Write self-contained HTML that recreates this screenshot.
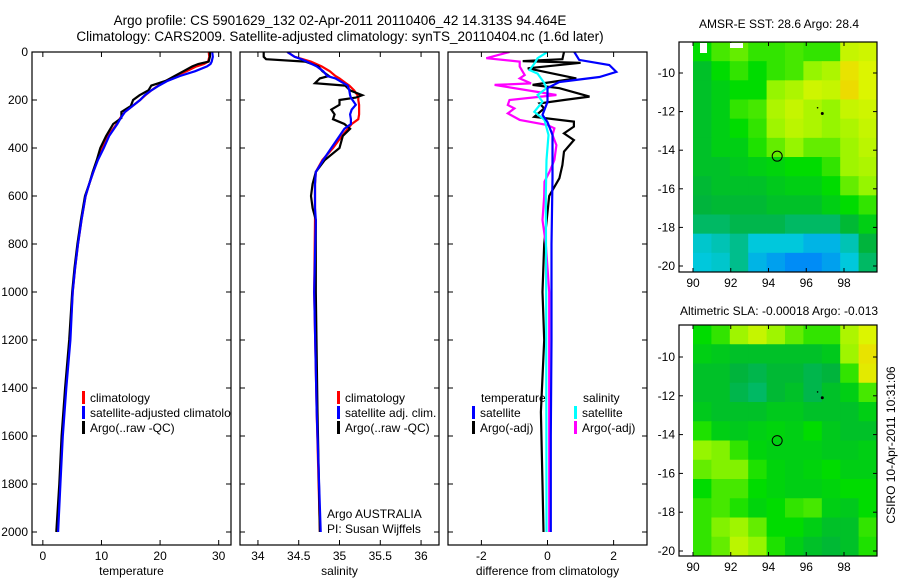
<!DOCTYPE html>
<html><head><meta charset="utf-8">
<style>
body{margin:0;background:#fff;}
svg{display:block;font-family:"Liberation Sans",sans-serif;}
text{fill:#000;}
</style></head>
<body>
<svg id="chart" width="900" height="580" viewBox="0 0 900 580" xmlns="http://www.w3.org/2000/svg">
<text x="340" y="25" font-size="13.5" text-anchor="middle">Argo profile: CS 5901629_132 02-Apr-2011 20110406_42 14.313S 94.464E</text>
<text x="340" y="41" font-size="13.5" text-anchor="middle">Climatology: CARS2009. Satellite-adjusted climatology: synTS_20110404.nc (1.6d later)</text>
<text x="779" y="28" font-size="12" text-anchor="middle">AMSR-E SST: 28.6 Argo: 28.4</text>
<text x="779" y="315" font-size="12" text-anchor="middle">Altimetric SLA: -0.00018 Argo: -0.013</text>
<text transform="translate(895,445) rotate(-90)" font-size="12" text-anchor="middle">CSIRO 10-Apr-2011 10:31:06</text>
<text x="327" y="518" font-size="12">Argo AUSTRALIA</text>
<text x="327" y="533" font-size="12">PI: Susan Wijffels</text>
</svg>
<script>
// ---- profile data ----
const depthT = [0,20,40,50,60,80,100,120,140,160,180,200,225,250,275,300,350,400,450,500,550,600,700,800,900,1000,1200,1400,1600,1800,2000];
const tempClim = [28.3,28.4,28.2,27.5,26.2,24.5,22.6,21,19.7,18.5,17.5,16.6,15.3,14.0,13.2,12.6,11.1,10.2,9.3,8.6,7.9,7.3,6.6,6.0,5.5,5.1,4.6,3.9,3.3,2.9,2.5];
const tempSat = [28.9,29.0,28.8,28.6,28.0,26.0,23.4,21.3,19.8,18.5,17.4,16.6,15.3,14.0,13.3,12.7,11.3,10.4,9.4,8.6,7.9,7.3,6.6,6.0,5.5,5.1,4.7,4.0,3.4,3.0,2.6];
const tempArgo = [28.5,28.5,28.3,26.5,25.5,24.0,22.5,21.0,18.5,18.0,16.5,15.4,15.0,13.4,13.4,12.0,10.8,9.8,9.2,8.5,7.9,7.2,6.5,5.9,5.4,5.0,4.5,3.8,3.2,2.8,2.3];
const depthS = [0,20,30,40,60,80,100,110,130,140,160,180,190,200,220,240,260,280,300,320,350,400,450,500,550,600,650,700,1000,1500,2000];
const salClim = [34.36,34.45,34.55,34.65,34.78,34.88,34.95,35.0,35.08,35.12,35.18,35.22,35.23,35.23,35.24,35.24,35.24,35.23,35.15,35.1,35.03,34.92,34.79,34.71,34.7,34.7,34.7,34.7,34.69,34.72,34.76];
const salSat = [34.36,34.45,34.53,34.6,34.72,34.8,34.85,34.95,35.05,35.1,35.12,35.13,35.14,35.16,35.2,35.15,35.13,35.14,35.14,35.06,35.0,34.9,34.8,34.71,34.7,34.7,34.7,34.71,34.69,34.72,34.77];
const salArgo = [34.07,34.07,34.1,34.58,34.74,34.79,34.87,34.76,34.7,35.07,35.13,35.28,35.2,35.0,35.0,34.9,34.94,34.92,35.06,35.13,35.04,35.0,34.82,34.71,34.67,34.65,34.67,34.71,34.71,34.73,34.76];
const depthDTS = [0,33,54,83,104,125,150,208,262,292,346,525,800,1200,1600,2000];
const diffTempSat = [0.81,0.96,1.87,2.08,1.57,0.36,0.0,0.0,-0.15,0.0,0.15,0.15,0.12,0.12,0.1,0.1];
const depthDTA = [0,30,38,45,68,110,137,151,186,200,214,235,270,290,311,339,367,415,471,526,600,800,1000,1200,1500,1800,2000];
const diffTempArgo = [0.5,0.45,-0.75,1.0,-0.6,0.87,-0.45,0.36,1.27,0.5,-0.24,-0.1,-0.4,0.8,0.8,0.5,0.8,0.5,0.45,0.36,0.05,-0.1,-0.15,-0.1,-0.2,-0.15,-0.12];
const depthDSS = [0,26,47,75,90,131,151,179,207,249,283,346,450,600,1000,2000];
const diffSalSat = [0.0,-0.3,-0.39,-0.54,-0.3,-0.09,-0.03,-0.3,-0.15,-0.4,-0.09,0.03,-0.03,-0.05,-0.04,-0.03];
const depthDSA = [0,26,40,61,96,110,131,137,179,200,221,235,256,283,304,318,346,388,450,499,540,600,700,800,1000,1500,2000];
const diffSalArgo = [-1.15,-1.85,-0.84,-0.84,-0.69,-0.84,-0.5,-1.6,0.27,-1.15,-1.2,-1.0,-1.2,-0.84,0.0,0.21,0.15,0.27,0.21,0.06,-0.09,-0.1,-0.15,-0.05,0.05,0.05,0.05];
const depthTicks = [0,200,400,600,800,1000,1200,1400,1600,1800,2000];
const tempTicks = [0,10,20,30];
const salTicks = [34,34.5,35,35.5,36];
const salTickLabels = ["34","34.5","35","35.5","36"];
const diffTicks = [-2,0,2];
// ---- map data (rows lat top->bottom, cols lon 90->99.7), colour level 0..1 ----
const sstGrid = [
[.55,.62,.65,.6,.6,.62,.6,.6,.8,.82],
[.45,.55,.6,.55,.6,.62,.7,.75,.9,.85],
[.45,.5,.55,.55,.7,.75,.82,.8,.92,.85],
[.45,.5,.6,.62,.75,.8,.75,.7,.8,.82],
[.45,.5,.55,.6,.72,.78,.75,.7,.75,.8],
[.45,.5,.5,.58,.65,.7,.65,.65,.72,.78],
[.45,.45,.48,.5,.52,.55,.55,.6,.72,.75],
[.42,.45,.45,.45,.48,.5,.5,.55,.65,.7],
[.4,.42,.42,.42,.45,.45,.45,.5,.55,.6],
[.35,.35,.38,.38,.38,.35,.35,.35,.42,.5],
[.22,.25,.3,.2,.2,.2,.15,.15,.25,.4],
[.2,.22,.3,.15,.1,.05,.05,.1,.2,.35]];
const slaGrid = [
[.55,.6,.72,.8,.72,.65,.6,.6,.75,.85],
[.5,.48,.45,.45,.45,.45,.45,.48,.72,.9],
[.45,.45,.4,.38,.42,.42,.38,.4,.6,.88],
[.45,.45,.38,.35,.42,.45,.38,.45,.5,.62],
[.48,.45,.45,.45,.48,.48,.45,.45,.45,.5],
[.58,.5,.48,.5,.52,.5,.55,.48,.45,.45],
[.7,.68,.6,.52,.5,.5,.5,.48,.48,.5],
[.65,.68,.68,.58,.52,.5,.52,.55,.5,.5],
[.55,.62,.62,.55,.52,.5,.5,.52,.55,.55],
[.6,.62,.58,.52,.55,.6,.62,.5,.48,.55],
[.6,.68,.72,.65,.55,.55,.5,.45,.45,.6],
[.6,.65,.78,.7,.58,.5,.45,.42,.45,.58]];
const lonTicks = [90,92,94,96,98];
const latTicks = [-10,-12,-14,-16,-18,-20];
const latTickLabels = ["-10","-12","-14","-16","-18","-20"];
const argoPos = [94.46,-14.31];
const extraDotsLon = [96.6,96.85];
const extraDotsLat = [-11.8,-12.1];

const svg = document.getElementById('chart');
const NS = 'http://www.w3.org/2000/svg';
function mk(tag, attrs, parent){const e=document.createElementNS(NS,tag);for(const k in attrs)e.setAttribute(k,attrs[k]);(parent||svg).appendChild(e);return e;}
function lin(d0,d1,r0,r1){return v=>r0+(v-d0)/(d1-d0)*(r1-r0);}

const Y0=52, Y1=545;
const yDepth = lin(0,2000,52,532);

function panel(name,x0,x1,dom0,dom1,ticks,labels,xlabel,showY){
  const sx = lin(dom0,dom1,x0,x1);
  const g = mk('g',{});
  
  
  const clipId = name+'-clip';
  const cp = mk('clipPath',{id:clipId},g);
  mk('rect',{x:x0,y:Y0,width:x1-x0,height:Y1-Y0},cp);
  const inner = mk('g',{'clip-path':'url(#'+clipId+')'},g);
  const box = mk('rect',{x:x0,y:Y0,width:x1-x0,height:Y1-Y0,fill:'none',stroke:'#000','stroke-width':1.2},g);
  
  
  ticks.forEach((t,i)=>{
    const x=sx(t);
    mk('line',{x1:x,y1:Y1,x2:x,y2:Y1-5,stroke:'#000'},g);
    mk('line',{x1:x,y1:Y0,x2:x,y2:Y0+5,stroke:'#000'},g);
    const tl = mk('text',{x:x,y:Y1+15,'font-size':12,'text-anchor':'middle'},g);
    tl.textContent = labels[i];
    
    
  });
  depthTicks.forEach(d=>{
    const y=yDepth(d);
    mk('line',{x1:x0,y1:y,x2:x0+5,y2:y,stroke:'#000'},g);
    mk('line',{x1:x1,y1:y,x2:x1-5,y2:y,stroke:'#000'},g);
    if(showY){
      const yl = mk('text',{x:x0-4,y:y+4,'font-size':12,'text-anchor':'end'},g);
      yl.textContent = String(d);
      
      
    }
  });
  const xl = mk('text',{x:(x0+x1)/2,y:Y1+30,'font-size':12,'text-anchor':'middle'},g);
  xl.textContent = xlabel;
  
  
  return {sx,inner,g};
}
function series(p,depths,vals,color,name){
  const pts = vals.map((v,i)=>p.sx(v).toFixed(1)+','+yDepth(depths[i]).toFixed(1)).join(' ');
  const pl = mk('polyline',{points:pts,fill:'none',stroke:color,'stroke-width':2.2},p.inner);
  
  
}
function legend(p,x,y,color,label,name){
  if(color) mk('rect',{x:x,y:y-11,width:3,height:13,fill:color},p.inner);
  const t = mk('text',{x:x+(color?8:0),y:y,'font-size':12},p.inner);
  t.textContent = label;
  
  
}

const p1 = panel('temperature-panel',32,231,-1.85,32.1,tempTicks,tempTicks.map(String),'temperature',true);
series(p1,depthT,tempClim,'#f00','temp-climatology-line');
series(p1,depthT,tempArgo,'#000','temp-argo-line');
series(p1,depthT,tempSat,'#00f','temp-satellite-line');
legend(p1,82,402,'#f00','climatology','legend-climatology');
legend(p1,82,417,'#00f','satellite-adjusted climatology','legend-satellite-adjusted');
legend(p1,82,432,'#000','Argo(..raw -QC)','legend-argo');

const p2 = panel('salinity-panel',240,439,33.78,36.22,salTicks,salTickLabels,'salinity',false);
series(p2,depthS,salClim,'#f00','sal-climatology-line');
series(p2,depthS,salArgo,'#000','sal-argo-line');
series(p2,depthS,salSat,'#00f','sal-satellite-line');
legend(p2,337,402,'#f00','climatology','legend-sal-climatology');
legend(p2,337,417,'#00f','satellite adj. clim.','legend-sal-satellite');
legend(p2,337,432,'#000','Argo(..raw -QC)','legend-sal-argo');

const p3 = panel('difference-panel',448,647,-3.01,3.01,diffTicks,diffTicks.map(String),'difference from climatology',false);
series(p3,depthDTA,diffTempArgo,'#000','diff-temp-argo-line');
series(p3,depthDSA,diffSalArgo,'#f0f','diff-sal-argo-line');
series(p3,depthDSS,diffSalSat,'#0ff','diff-sal-satellite-line');
series(p3,depthDTS,diffTempSat,'#00f','diff-temp-satellite-line');
legend(p3,481,402,null,'temperature','legend-temperature-heading');
legend(p3,583,402,null,'salinity','legend-salinity-heading');
legend(p3,472,417,'#00f','satellite','legend-temp-satellite');
legend(p3,472,432,'#000','Argo(-adj)','legend-temp-argo');
legend(p3,574,417,'#0ff','satellite','legend-sal-satellite-diff');
legend(p3,574,432,'#f0f','Argo(-adj)','legend-sal-argo-diff');

// ---- maps ----
const cstops=[[0,[0,120,255]],[0.2,[0,200,220]],[0.4,[0,180,60]],[0.55,[0,220,0]],[0.7,[150,245,0]],[0.85,[220,245,0]],[1,[255,190,0]]];
function cmap(v){
  for(let i=1;i<cstops.length;i++){
    if(v<=cstops[i][0]){const a=cstops[i-1],b=cstops[i];const f=(v-a[0])/(b[0]-a[0]);
      return 'rgb('+a[1].map((c,j)=>Math.round(c+(b[1][j]-c)*f)).join(',')+')';}
  }
  return 'rgb(255,190,0)';
}
function map(name,grid,by0,by1,latY10,latY20){
  const bx0=679,bx1=877;
  const sx = lin(90,98,693,844);
  const sy = lin(-10,-20,latY10,latY20);
  const g = mk('g',{});
  
  
  const lon0=90, lon1=(bx1-693)/(844-693)*8+90;
  const lat0=-10+(latY10-by0)/(latY20-latY10)*10;
  const latBot=-20-(by1-latY20)/(latY20-latY10)*10;
  const nr=grid.length, nc=grid[0].length;
  const dLon=(lon1-lon0)/nc, dLat=(lat0-latBot)/nr;
  grid.forEach((row,r)=>row.forEach((v,c)=>{
    const x=sx(lon0+c*dLon), y=sy(lat0-r*dLat);
    const cell = mk('rect',{x:x,y:y,width:sx(lon0+(c+1)*dLon)-x+0.5,height:sy(lat0-(r+1)*dLat)-y+0.5,fill:cmap(v)},g);
    
    
  }));
  mk('rect',{x:bx0,y:by0,width:bx1-bx0,height:by1-by0,fill:'none',stroke:'#000','stroke-width':1.2},g);
  lonTicks.forEach(l=>{
    const x=sx(l);
    mk('line',{x1:x,y1:by1,x2:x,y2:by1-4,stroke:'#000'},g);
    mk('line',{x1:x,y1:by0,x2:x,y2:by0+4,stroke:'#000'},g);
    const t=mk('text',{x:x,y:by1+15,'font-size':12,'text-anchor':'middle'},g);
    t.textContent=String(l);
    
    
  });
  latTicks.forEach((l,i)=>{
    const y=sy(l);
    mk('line',{x1:bx0,y1:y,x2:bx0+4,y2:y,stroke:'#000'},g);
    mk('line',{x1:bx1,y1:y,x2:bx1-4,y2:y,stroke:'#000'},g);
    const t=mk('text',{x:bx0-4,y:y+4,'font-size':12,'text-anchor':'end'},g);
    t.textContent=latTickLabels[i];
    
    
  });
  const c=mk('circle',{cx:sx(argoPos[0]),cy:sy(argoPos[1]),r:5,fill:'none',stroke:'#000','stroke-width':1},g);
  
  
  extraDotsLon.forEach((lo,i)=>{
    const d=mk('circle',{cx:sx(lo),cy:sy(extraDotsLat[i]),r:i?1.5:0.8,fill:'#000'},g);
    
    
  });
}
map('sst-map',sstGrid,42,272,73,266);
map('sla-map',slaGrid,325,556,357,551);
// white no-data patches in SST map
[[700,42,7,10],[730,42,13,5]].forEach(r=>{
  const w=mk('rect',{x:r[0],y:r[1]+1,width:r[2],height:r[3],fill:'#fff'});
  
  
});
</script>
</body></html>
